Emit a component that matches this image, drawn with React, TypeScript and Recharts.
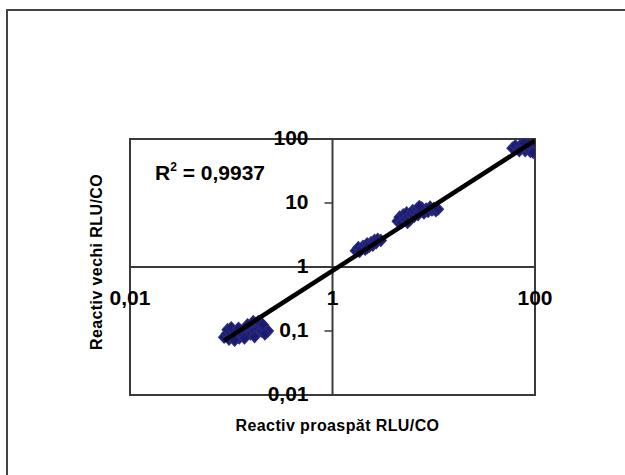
import { ScatterChart, Scatter, XAxis, YAxis, ReferenceLine, ReferenceArea, ReferenceDot } from "recharts";

// tick labels (Romanian decimal comma)
const xTicks = [0.01, 1, 100];
const xTickLabels = ["0,01", "1", "100"];
const yTicks = [0.01, 0.1, 1, 10, 100];
const yTickLabels = ["0,01", "0,1", "1", "10", "100"];

// Reactiv proaspăt (x) vs Reactiv vechi (y)
const freshValues = [
  0.085, 0.09, 0.095, 0.1, 0.1, 0.105, 0.11, 0.115, 0.12, 0.125, 0.13, 0.14, 0.15, 0.155, 0.16, 0.17, 0.175, 0.18, 0.19, 0.2, 0.21, 0.22, 0.23, 0.195, 0.165,
  0.092, 0.1, 0.108, 0.118, 0.135, 0.145, 0.185, 0.205, 0.215, 0.17,
  1.7, 1.8, 1.9, 2.0, 2.1, 2.2, 2.3, 2.4, 2.5, 2.6, 2.7, 2.8, 3.0, 2.2, 1.85,
  4.4, 4.6, 4.8, 5.0, 5.2, 5.4, 5.6, 5.8, 6.0, 6.2, 6.4, 6.6, 6.8, 7.0, 7.3, 7.6, 8.0, 8.4, 8.8, 9.2, 9.6, 10, 10.5, 11, 5.5, 7.2,
  60, 64, 68, 72, 75, 80, 82, 85, 88, 90, 92, 95, 98, 100, 96, 78, 70,
];
const oldValues = [
  0.08, 0.09, 0.075, 0.085, 0.1, 0.08, 0.095, 0.088, 0.078, 0.1, 0.085, 0.095, 0.11, 0.09, 0.12, 0.1, 0.13, 0.11, 0.12, 0.1, 0.115, 0.105, 0.1, 0.135, 0.14,
  0.105, 0.112, 0.072, 0.11, 0.078, 0.125, 0.14, 0.125, 0.09, 0.082,
  1.8, 2.0, 1.85, 2.1, 1.9, 2.3, 2.1, 2.4, 2.2, 2.6, 2.4, 2.7, 2.6, 2.0, 1.75,
  5.2, 6.0, 5.0, 6.5, 5.5, 7.0, 6.0, 5.4, 6.8, 7.6, 6.2, 7.2, 8.0, 6.6, 7.5, 8.4, 7.0, 8.0, 7.4, 8.6, 7.8, 8.2, 7.6, 8.0, 5.0, 8.8,
  72, 78, 70, 80, 74, 66, 78, 84, 70, 64, 76, 82, 68, 74, 62, 86, 66,
];

// power trendline ends
const trendX = [0.085, 100];
const trendY = [0.071, 95];
const rSquared = "0,9937";

const points = freshValues.map((x, i) => ({ x, y: oldValues[i] }));
const trend = trendX.map((x, i) => ({ x, y: trendY[i] }));

const FONT = "'Liberation Sans', Arial, sans-serif";
const AXIS = "#3a3a3a";

function Diamond(props: any) {
  const { cx, cy } = props;
  if (cx == null || cy == null) return <g />;
  return (
    <polygon
      points={`${cx},${cy - 6} ${cx + 5.5},${cy} ${cx},${cy + 6} ${cx - 5.5},${cy}`}
      fill="#1c1c6e"
      stroke="#2a2a80"
      strokeWidth={1.2}
    />
  );
}

function XTick({ viewBox, text }: any) {
  return (
    <text x={viewBox.x} y={viewBox.y + 38} textAnchor="middle" fontSize={21} fontWeight="bold" fontFamily={FONT} fill="#000">
      {text}
    </text>
  );
}

function YTick({ viewBox, text }: any) {
  return (
    <g>
      <line x1={viewBox.x - 8} y1={viewBox.y} x2={viewBox.x} y2={viewBox.y} stroke={AXIS} strokeWidth={1.5} />
      <text x={viewBox.x - 24} y={viewBox.y + 6} textAnchor="end" fontSize={21} fontWeight="bold" fontFamily={FONT} fill="#000">
        {text}
      </text>
    </g>
  );
}

export default function App() {
  return (
    <div style={{ position: "absolute", left: 0, top: 0, width: 625, height: 475, overflow: "hidden", background: "#fff" }}>
      <div
        style={{
          position: "absolute",
          left: 6,
          top: 9,
          width: 700,
          height: 600,
          border: "2px solid #444",
        }}
      />
      <div style={{ position: "absolute", left: 0, top: 0 }}>
        <ScatterChart width={625} height={475} margin={{ top: 139, right: 90, bottom: 80, left: 130 }}>
          <XAxis type="number" dataKey="x" scale="log" domain={[0.01, 100]} allowDataOverflow hide />
          <YAxis type="number" dataKey="y" scale="log" domain={[0.01, 100]} allowDataOverflow hide />
          <ReferenceArea x1={0.01} x2={100} y1={0.01} y2={100} fill="none" stroke={AXIS} strokeWidth={2} ifOverflow="visible" />
          <ReferenceLine x={1} stroke={AXIS} strokeWidth={2} ifOverflow="visible" />
          <ReferenceLine y={1} stroke={AXIS} strokeWidth={2} ifOverflow="visible" />
          {yTicks.map((t, i) => (
            <ReferenceDot key={"y" + t} x={1} y={t} r={0} ifOverflow="visible" label={<YTick text={yTickLabels[i]} />} />
          ))}
          {xTicks.map((t, i) => (
            <ReferenceDot key={"x" + t} x={t} y={1} r={0} ifOverflow="visible" label={<XTick text={xTickLabels[i]} />} />
          ))}
          <Scatter data={points} shape={<Diamond />} isAnimationActive={false} />
          <Scatter
            data={trend}
            line={{ stroke: "#000", strokeWidth: 4.5 }}
            shape={() => <g />}
            isAnimationActive={false}
          />
        </ScatterChart>
      </div>
      <svg width={625} height={475} style={{ position: "absolute", left: 0, top: 0, pointerEvents: "none" }}>
        <text x={155} y={180} fontSize={21} fontWeight="bold" fontFamily={FONT} fill="#000">
          R<tspan fontSize={12} dy={-9}>2</tspan>
          <tspan dy={9}>{" = " + rSquared}</tspan>
        </text>
        <text x={337.5} y={431} textAnchor="middle" fontSize={16} fontWeight="bold" letterSpacing={0.4} fontFamily={FONT} fill="#000">
          Reactiv proaspăt RLU/CO
        </text>
        <text
          x={102}
          y={262}
          textAnchor="middle"
          fontSize={16}
          fontWeight="bold"
          letterSpacing={0.4}
          fontFamily={FONT}
          fill="#000"
          transform="rotate(-90 102 262)"
        >
          Reactiv vechi RLU/CO
        </text>
      </svg>
    </div>
  );
}
